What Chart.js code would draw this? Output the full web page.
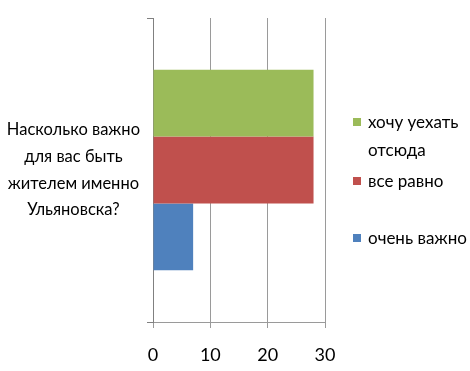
<!DOCTYPE html>
<html>
<head>
<meta charset="utf-8">
<script src="https://cdn.jsdelivr.net/npm/chart.js@4"></script>
<style>
  html, body { margin: 0; padding: 0; background: #fff; }
  #wrap { position: relative; width: 470px; height: 371px; }
  #legend { position: absolute; left: 353px; top: 0; font-family: Lato, sans-serif; font-size: 17px; color: #000; }
  .item { position: absolute; left: 0; white-space: nowrap; line-height: 28px; }
  .box { position: absolute; left: 0; width: 8px; height: 8px; }
  .txt { position: absolute; left: 15px; }
</style>
</head>
<body>
<div id="wrap">
  <canvas id="chart" width="470" height="371"></canvas>
  <div id="legend"></div>
</div>
<script>
// данные
const categories = [["Насколько важно", "для вас быть", "жителем именно", "Ульяновска?"]];
const seriesNames = [["хочу уехать", "отсюда"], ["все равно"], ["очень важно"]];
const seriesValues = [[28], [28], [7]];
const seriesColors = ["#9BBB59", "#C0504D", "#4F81BD"];
const xTicks = [0, 10, 20, 30];

const legendTop = [108, 167, 224]; // верх первой строки каждой подписи

const ctx = document.getElementById("chart").getContext("2d");
new Chart(ctx, {
  type: "bar",
  data: {
    labels: categories,
    datasets: seriesNames.map((name, i) => ({
      label: name.join(" "),
      data: seriesValues[i],
      backgroundColor: seriesColors[i],
      borderWidth: 0,
      categoryPercentage: 0.66,
      barPercentage: 1
    }))
  },
  options: {
    indexAxis: "y",
    responsive: false,
    animation: false,
    layout: { padding: { top: 18, right: 145, left: 0, bottom: 0 } },
    plugins: { legend: { display: false }, tooltip: { enabled: false } },
    scales: {
      x: {
        min: 0,
        max: 30,
        afterBuildTicks: (scale) => { scale.ticks = xTicks.map(v => ({ value: v })); },
        afterFit: (scale) => {
          scale.height = 371 - 322;
          scale.paddingLeft = 0;
          scale.paddingRight = 0;
        },
        grid: { color: "#9a9a9a", lineWidth: 1, tickLength: 6, drawTicks: true },
        border: { display: true, color: "#9a9a9a" },
        ticks: { color: "#000", font: { family: "Lato", size: 18 }, padding: 16 }
      },
      y: {
        afterFit: (scale) => {
          scale.width = 153;
          scale.paddingTop = 0;
          scale.paddingBottom = 0;
        },
        grid: { drawOnChartArea: false, color: "#808080", tickLength: 6 },
        border: { display: true, color: "#808080" },
        ticks: {
          color: "#000",
          crossAlign: "center",
          padding: 7,
          font: { family: "Lato", size: 16.5, lineHeight: 1.62 }
        }
      }
    }
  }
});

// легенда справа
const legend = document.getElementById("legend");
seriesNames.forEach((name, i) => {
  const item = document.createElement("div");
  item.className = "item";
  item.style.top = legendTop[i] + "px";
  item.innerHTML = `<div class="box" style="top:10px;background:${seriesColors[i]}"></div>
    <div class="txt">${name.join("<br>")}</div>`;
  legend.appendChild(item);
});
</script>
</body>
</html>
